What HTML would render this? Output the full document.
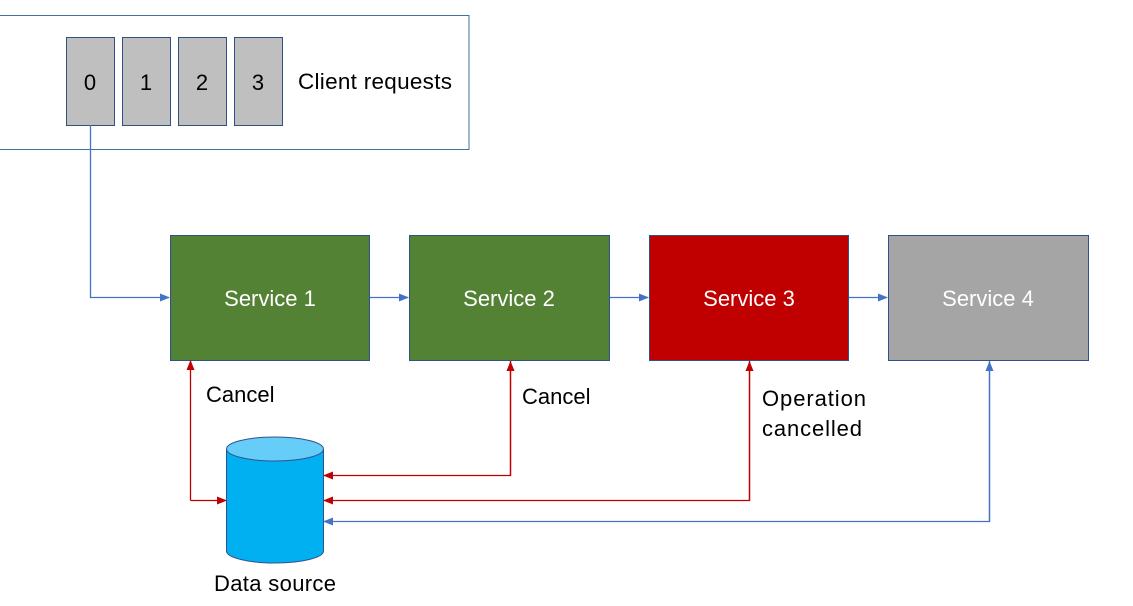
<!DOCTYPE html>
<html><head><style>body{margin:0;background:#fff}svg{display:block;font-family:"Liberation Sans",sans-serif}</style></head><body>
<svg width="1133" height="606" viewBox="0 0 1133 606">
<defs>
<marker id="b" markerWidth="10" markerHeight="8" refX="9" refY="4" orient="auto" markerUnits="userSpaceOnUse"><path d="M0,0L10,4L0,8z" fill="#4472c4"/></marker>
<marker id="r" markerWidth="10" markerHeight="8" refX="9" refY="4" orient="auto" markerUnits="userSpaceOnUse"><path d="M0,0L10,4L0,8z" fill="#c00000"/></marker>
</defs>
<rect x="-2" y="15.5" width="471" height="134" fill="#fff" stroke="#41719c" stroke-width="1"/>
<g fill="#bfbfbf" stroke="#2f4f7f" stroke-width="1">
<rect x="66.5" y="37.5" width="48" height="88"/><rect x="122.5" y="37.5" width="48" height="88"/><rect x="178.5" y="37.5" width="48" height="88"/><rect x="234.5" y="37.5" width="48" height="88"/>
</g>
<g font-size="22" text-anchor="middle" fill="#000"><text x="90" y="90">0</text><text x="146" y="90">1</text><text x="202" y="90">2</text><text x="258" y="90">3</text></g>
<text x="298" y="89" font-size="22.5" textLength="154">Client requests</text>
<rect x="170.5" y="235.5" width="199" height="125" fill="#548235" stroke="#2f528f"/>
<rect x="409.5" y="235.5" width="200" height="125" fill="#548235" stroke="#2f528f"/>
<rect x="649.5" y="235.5" width="199" height="125" fill="#c00000" stroke="#2f528f"/>
<rect x="888.5" y="235.5" width="200" height="125" fill="#a5a5a5" stroke="#2f528f"/>
<g font-size="22" fill="#fff" text-anchor="middle"><text x="270" y="306">Service 1</text><text x="509" y="306">Service 2</text><text x="749" y="306">Service 3</text><text x="988" y="306">Service 4</text></g>
<g stroke="#4472c4" stroke-width="1.3" fill="none">
<path d="M90.5,125V297.5H169" marker-end="url(#b)"/>
<path d="M370,297.5H408" marker-end="url(#b)"/>
<path d="M610,297.5H648" marker-end="url(#b)"/>
<path d="M849,297.5H887" marker-end="url(#b)"/>
<path d="M989.5,361V521.5H324" marker-end="url(#b)"/>
<path d="M989.5,521.5V362" marker-end="url(#b)"/>
</g>
<g stroke="#c00000" stroke-width="1.3" fill="none">
<path d="M190.5,500.5V361" marker-end="url(#r)"/>
<path d="M190.5,500.5H226" marker-end="url(#r)"/>
<path d="M510.5,361V475.5H324" marker-end="url(#r)"/>
<path d="M749.5,361V500.5H324" marker-end="url(#r)"/>
<path d="M510.5,475.5V362" marker-end="url(#r)"/>
<path d="M749.5,500.5V362" marker-end="url(#r)"/>
</g>
<path d="M226.5,449V551a48.5,12 0 0 0 97,0V449" fill="#00b0f0" stroke="#2f528f"/>
<ellipse cx="275" cy="449" rx="48.5" ry="12" fill="#65cdf7" stroke="#2f528f"/>
<g font-size="22" fill="#000">
<text x="206" y="402">Cancel</text>
<text x="522" y="404">Cancel</text>
<text x="762" y="406" textLength="104">Operation</text>
<text x="762" y="436" textLength="100">cancelled</text>
<text x="275" y="591" text-anchor="middle" textLength="122">Data source</text>
</g>
</svg>
</body></html>
